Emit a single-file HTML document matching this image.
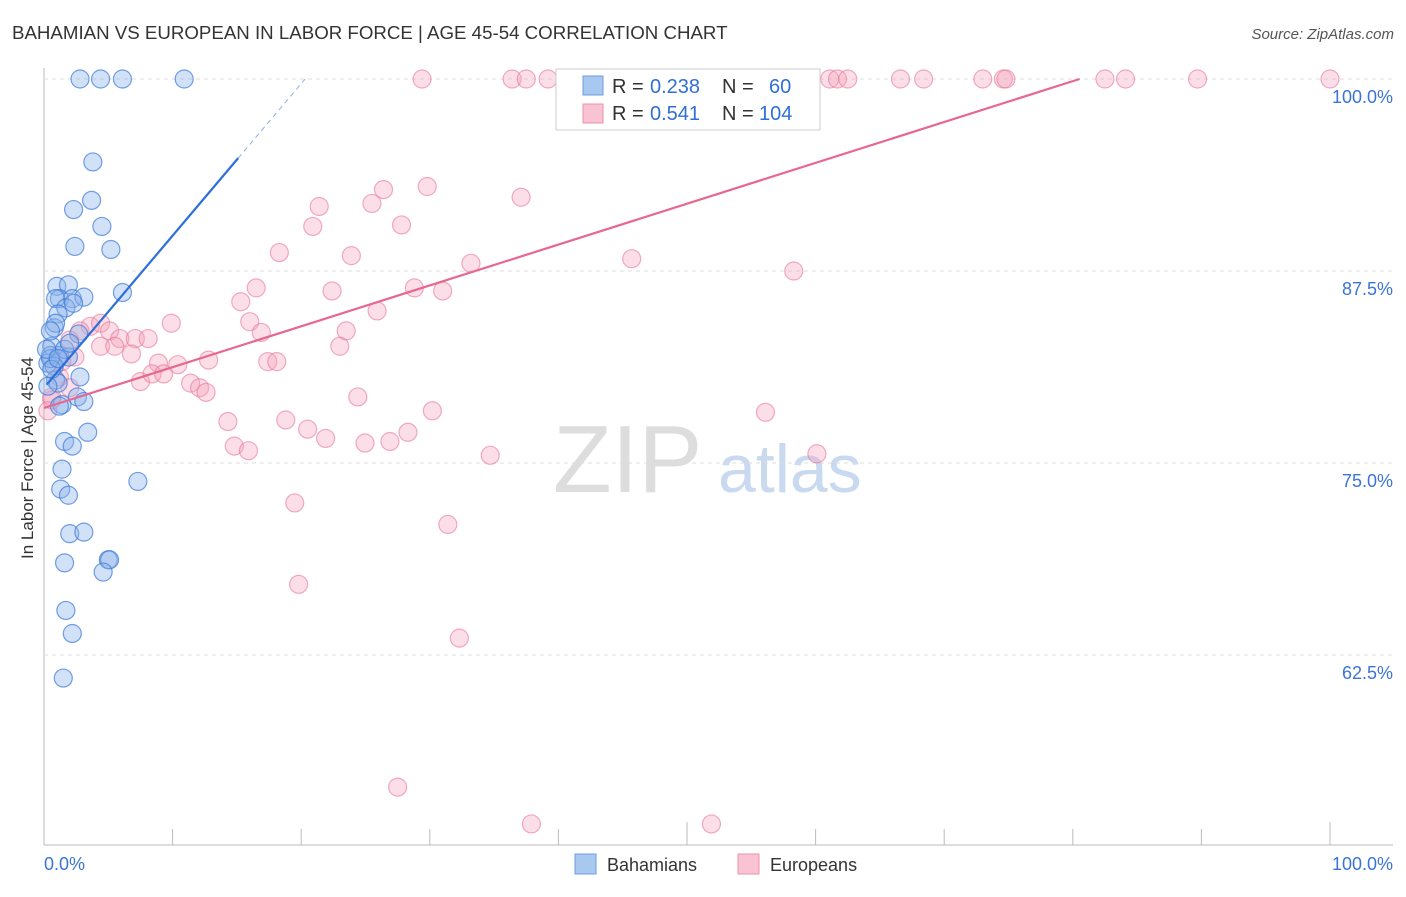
<!DOCTYPE html>
<html><head><meta charset="utf-8"><style>
body{margin:0;background:#fff;font-family:"Liberation Sans",sans-serif;}
svg text{font-family:"Liberation Sans",sans-serif;}
</style></head><body>
<svg id="c" width="1406" height="892" xmlns="http://www.w3.org/2000/svg">
<text x="12" y="39" font-size="18.7" fill="#333">BAHAMIAN VS EUROPEAN IN LABOR FORCE | AGE 45-54 CORRELATION CHART</text>
<text x="1394" y="39" font-size="15" fill="#555" font-style="italic" text-anchor="end">Source: ZipAtlas.com</text>
<text x="0" y="0" transform="translate(33,458) rotate(-90)" font-size="17" fill="#333" text-anchor="middle">In Labor Force | Age 45-54</text>
<text x="553" y="492" font-size="96" fill="#ddd" font-family="Liberation Serif">ZIP</text>
<text x="718" y="492" font-size="68" fill="#c9d9f0">atlas</text>
<g id="grid"></g><g id="pts"></g><g id="lines"></g>
<g>
<rect x="556" y="69" width="264" height="61" fill="#fff" stroke="#ccc"/>
<rect x="583" y="76" width="20" height="19" fill="#a9c8f0" stroke="#6d9de0"/>
<text x="612" y="93" font-size="20" fill="#333">R =</text><text x="650" y="93" font-size="20" fill="#2f6fd6">0.238</text>
<text x="722" y="93" font-size="20" fill="#333">N =</text><text x="769" y="93" font-size="20" fill="#2f6fd6">60</text>
<rect x="583" y="104" width="20" height="19" fill="#f8c3d3" stroke="#ee92ad"/>
<text x="612" y="120" font-size="20" fill="#333">R =</text><text x="650" y="120" font-size="20" fill="#2f6fd6">0.541</text>
<text x="722" y="120" font-size="20" fill="#333">N =</text><text x="759" y="120" font-size="20" fill="#2f6fd6">104</text>
</g>
<g>
<rect x="575" y="854" width="21" height="20" fill="#a9c8f0" stroke="#6d9de0"/>
<text x="607" y="871" font-size="18" fill="#333">Bahamians</text>
<rect x="738" y="854" width="21" height="20" fill="#f8c3d3" stroke="#ee92ad"/>
<text x="770" y="871" font-size="18" fill="#333">Europeans</text>
</g>
</svg>
<script>
const yTicks=[100,87.5,75,62.5];
const yTickLabels=["100.0%","87.5%","75.0%","62.5%"];
const xLabels=["0.0%","100.0%"];
const blueX=[2.8,4.4,6.1,10.9,3.8,3.7,2.3,4.5,2.4,5.2,6.1,1.0,1.9,1.2,2.2,3.1,0.9,1.7,1.1,0.8,2.7,0.6,0.5,1.2,1.9,0.3,0.8,2.8,0.9,1.1,2.6,3.1,1.4,3.4,1.6,2.2,1.4,1.3,1.9,7.3,2.0,3.1,1.6,5.0,5.1,4.6,1.7,2.2,1.5,0.5,0.6,0.2,0.3,0.9,2.3,1.6,2.0,1.1,0.5,1.2];
const blueY=[100,100,100,100,94.6,92.1,91.5,90.4,89.1,88.9,86.1,86.5,86.6,85.7,85.7,85.8,85.7,85.1,84.7,83.8,83.4,82.6,82.0,82.0,81.9,81.5,81.3,80.6,80.4,80.2,79.3,79.0,78.8,77.0,76.4,76.1,74.6,73.3,72.9,73.8,70.4,70.5,68.5,68.7,68.7,67.9,65.4,63.9,61.0,81.8,81.1,82.4,80.0,84.1,85.4,82.4,82.8,81.8,83.6,78.7];
const pinkX=[29.4,36.4,37.5,39.2,41.5,43.3,45.1,47.1,48.5,51.0,53.3,53.9,61.1,61.7,62.5,66.6,68.4,73.0,74.6,74.8,82.5,84.1,89.7,100,29.8,26.4,25.5,21.4,20.9,27.8,18.3,23.9,37.1,45.7,33.2,58.3,16.5,22.4,28.8,31.0,15.3,25.9,9.9,16.0,16.9,23.5,23.0,3.6,4.4,5.1,5.9,7.1,8.1,2.8,2.0,6.8,8.9,10.4,12.8,17.4,18.1,7.5,8.4,9.3,11.4,12.1,12.6,24.4,30.2,56.1,14.3,18.8,20.5,21.9,24.96,26.9,28.3,14.8,15.9,34.7,60.1,19.5,31.4,19.8,32.3,27.5,37.9,51.9,0.6,1.2,2.0,1.4,2.4,0.6,4.4,5.5,0.3];
const pinkY=[100,100,100,100,100,100,100,100,100,100,100,100,100,100,100,100,100,100,100,100,100,100,100,100,93.0,92.8,91.9,91.7,90.4,90.5,88.7,88.5,92.3,88.3,88.0,87.5,86.4,86.2,86.4,86.2,85.5,84.9,84.1,84.2,83.5,83.6,82.6,83.9,84.1,83.6,83.1,83.1,83.1,83.6,83.0,82.1,81.5,81.4,81.7,81.6,81.6,80.3,80.8,80.8,80.2,79.9,79.6,79.3,78.4,78.3,77.7,77.8,77.2,76.6,76.3,76.4,77.0,76.1,75.8,75.5,75.6,72.4,71.0,67.1,63.6,53.9,51.5,51.5,79.1,80.6,79.9,81.6,81.9,79.3,82.6,82.6,78.4];
const X=v=>44+v*12.86, Y=v=>79+(100-v)*15.36;
const NS="http://www.w3.org/2000/svg";
function mk(t,a,p){const e=document.createElementNS(NS,t);for(const k in a)e.setAttribute(k,a[k]);p.appendChild(e);return e;}
const svg=document.getElementById('c'),g=document.getElementById('grid'),pg=document.getElementById('pts'),lg=document.getElementById('lines');
mk('line',{x1:44,y1:68,x2:44,y2:845,stroke:'#bbb'},g);
mk('line',{x1:44,y1:845,x2:1393,y2:845,stroke:'#bbb'},g);
for(let i=0;i<=10;i++){const l=mk('line',{x1:X(i*10),x2:X(i*10),y1:845,y2:i%5==0?822:829,stroke:'#bbb'},g);

}
yTicks.forEach((v,i)=>{const l=mk('line',{x1:44,x2:1393,y1:Y(v),y2:Y(v),stroke:'#ddd','stroke-dasharray':'4,4'},g);


const t=mk('text',{x:1393,y:Y(v)+24,'font-size':18,fill:'#3b74d6','text-anchor':'end'},g);t.textContent=yTickLabels[i];

});
[[44,'start'],[1393,'end']].forEach((p,i)=>{const t=mk('text',{x:p[0],y:870,'font-size':18,fill:'#3b74d6','text-anchor':p[1]},g);t.textContent=xLabels[i];

});
pinkX.forEach((x,i)=>{const c=mk('circle',{cx:X(x),cy:Y(pinkY[i]),r:9,fill:'rgba(244,160,185,0.35)',stroke:'rgba(232,120,155,0.6)','stroke-width':1.2},pg);

});
blueX.forEach((x,i)=>{const c=mk('circle',{cx:X(x),cy:Y(blueY[i]),r:9,fill:'rgba(140,180,235,0.4)',stroke:'rgba(60,120,215,0.7)','stroke-width':1.2},pg);

});
const b0=79.9,bs=0.99,p0=78.58,ps=0.266;
let l=mk('line',{x1:X(0.2),y1:Y(b0+bs*0.2),x2:X(15.1),y2:Y(b0+bs*15.1),stroke:'#2d6fd8','stroke-width':2.2},lg);


l=mk('line',{x1:X(15.1),y1:Y(b0+bs*15.1),x2:X(20.3),y2:Y(b0+bs*20.3),stroke:'#8fb0e0','stroke-width':1,'stroke-dasharray':'5,4'},lg);


const xe=(100-p0)/ps;
l=mk('line',{x1:X(0),y1:Y(p0),x2:X(xe),y2:Y(100),stroke:'#e8678f','stroke-width':2.2},lg);


</script>
</body></html>
